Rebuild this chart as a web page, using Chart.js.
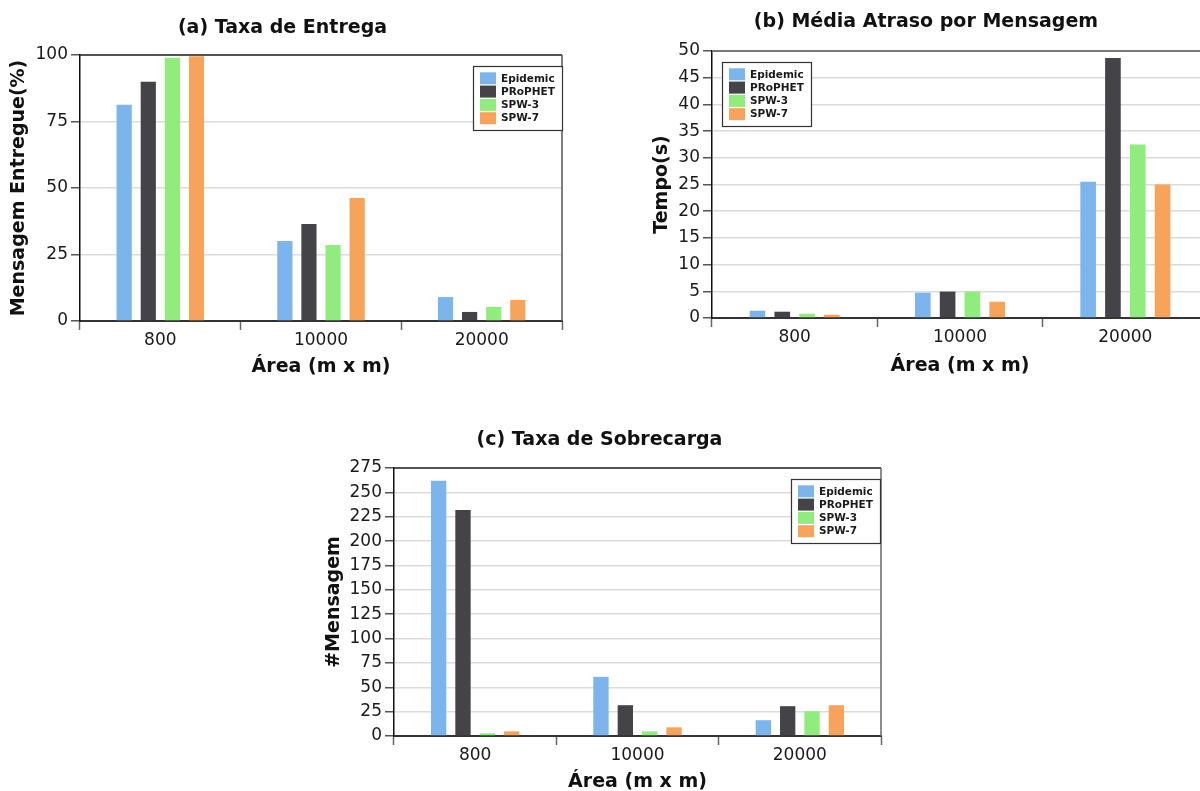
<!DOCTYPE html>
<html lang="pt">
<head>
<meta charset="utf-8">
<title>Desempenho dos protocolos</title>
<script src="https://cdn.jsdelivr.net/npm/chart.js@4/dist/chart.umd.min.js"></script>
<style>
  html, body { margin: 0; padding: 0; background: #fff; overflow: hidden; width: 1200px; height: 791px; }
  canvas { position: absolute; }
</style>
</head>
<body>
<canvas id="chartEntrega" width="565" height="395" style="left:0;top:0"></canvas>
<canvas id="chartAtraso" width="564" height="395" style="left:644px;top:0"></canvas>
<canvas id="chartSobrecarga" width="566" height="390" style="left:318px;top:415px"></canvas>
<script>
// Categorias (área do cenário, m x m)
const areas = ['800', '10000', '20000'];

// Protocolos e cores
const protocolos = ['Epidemic', 'PRoPHET', 'SPW-3', 'SPW-7'];
const cores = ['#7cb5ec', '#434348', '#90ed7d', '#f7a35c'];

// (a) Taxa de entrega (%)
const entregaEpidemic = [81.3, 30.1, 9.0];
const entregaProphet  = [89.9, 36.5, 3.4];
const entregaSpw3     = [99.0, 28.6, 5.3];
const entregaSpw7     = [99.5, 46.2, 7.9];

// (b) Média de atraso por mensagem (s)
const atrasoEpidemic = [1.37, 4.75, 25.5];
const atrasoProphet  = [1.18, 4.95, 48.7];
const atrasoSpw3     = [0.81, 4.95, 32.5];
const atrasoSpw7     = [0.62, 3.05, 25.0];

// (c) Taxa de sobrecarga (#mensagens)
const sobrecargaEpidemic = [262, 60.7, 16.2];
const sobrecargaProphet  = [232, 31.6, 30.6];
const sobrecargaSpw3     = [2.8, 4.8, 25.4];
const sobrecargaSpw7     = [4.8, 8.9, 31.6];

// Eixos Y
const ticksEntrega    = { max: 100, step: 25 };
const ticksAtraso     = { max: 50,  step: 5 };
const ticksSobrecarga = { max: 275, step: 25 };

const FONT = 'DejaVu Sans';

// Moldura superior/direita da área de plotagem
const plotFrame = {
  id: 'plotFrame',
  afterDatasetsDraw(chart, args, opts) {
    const { ctx, chartArea: a } = chart;
    ctx.save();
    ctx.lineWidth = opts.topWidth;
    ctx.strokeStyle = opts.topColor;
    ctx.beginPath();
    ctx.moveTo(a.left, a.top);
    ctx.lineTo(a.right, a.top);
    ctx.stroke();
    ctx.lineWidth = opts.rightWidth;
    ctx.strokeStyle = opts.rightColor;
    ctx.beginPath();
    ctx.moveTo(a.right, a.top);
    ctx.lineTo(a.right, a.bottom);
    ctx.stroke();
    ctx.restore();
  }
};

// Legenda desenhada dentro da área de plotagem
const insideLegend = {
  id: 'insideLegend',
  afterDraw(chart, args, opts) {
    const { ctx, chartArea: a } = chart;
    const sets = chart.data.datasets;
    ctx.save();
    ctx.font = 'bold 10.5px "' + FONT + '"';
    const textW = Math.max(...sets.map(d => ctx.measureText(d.label).width));
    const rowH = 13.3;
    const w = Math.round(28 + textW + 7);
    const h = Math.round(6.3 + sets.length * rowH + 4.5);
    const left = opts.anchor === 'right' ? Math.round(a.right - opts.dx - w) : Math.round(a.left + opts.dx);
    const top = Math.round(a.top + opts.dy);
    ctx.fillStyle = '#fff';
    ctx.fillRect(left, top, w, h);
    ctx.lineWidth = 1.2;
    ctx.strokeStyle = '#333';
    ctx.strokeRect(left + 0.5, top + 0.5, w, h);
    ctx.textBaseline = 'middle';
    ctx.textAlign = 'left';
    sets.forEach((d, i) => {
      const y = top + 6.3 + i * rowH;
      ctx.fillStyle = d.backgroundColor;
      ctx.fillRect(left + 7, y, 16, 12);
      ctx.fillStyle = '#1a1a1a';
      ctx.fillText(d.label, left + 28, y + 6.5);
    });
    ctx.restore();
  }
};

function montarGrafico(id, cfg) {
  const series = cfg.series.map((valores, i) => ({
    label: protocolos[i],
    data: valores,
    backgroundColor: cores[i],
    borderWidth: 0,
    categoryPercentage: 0.6,
    barPercentage: 0.63
  }));
  return new Chart(document.getElementById(id), {
    type: 'bar',
    data: { labels: areas, datasets: series },
    plugins: [plotFrame, insideLegend],
    options: {
      responsive: false,
      animation: false,
      devicePixelRatio: 1,
      layout: { padding: cfg.padding },
      plugins: {
        legend: { display: false },
        tooltip: { enabled: false },
        title: {
          display: true,
          text: cfg.title,
          color: '#111',
          font: { family: FONT, size: 19, weight: 'bold', lineHeight: 1.2 },
          padding: cfg.titlePad
        },
        plotFrame: cfg.frame,
        insideLegend: cfg.legend
      },
      scales: {
        x: {
          afterFit: s => { s.height = cfg.xHeight; },
          grid: {
            offset: true,
            drawOnChartArea: false,
            drawTicks: true,
            tickLength: 9,
            tickColor: '#666',
            tickWidth: 1.5
          },
          border: { display: true, color: '#333', width: 2 },
          ticks: { color: '#1a1a1a', padding: 0, font: { family: FONT, size: 17, lineHeight: 1.2 } },
          title: {
            display: true,
            text: 'Área (m x m)',
            color: '#111',
            font: { family: FONT, size: 19, weight: 'bold', lineHeight: 1.2 },
            padding: { top: 0, bottom: cfg.xTitlePad }
          }
        },
        y: {
          afterFit: s => { s.width = cfg.yWidth; },
          min: 0,
          max: cfg.ticks.max,
          grid: {
            color: '#dcdcdc',
            lineWidth: 1.5,
            drawTicks: true,
            tickLength: 9,
            tickColor: '#555',
            tickWidth: 1.5
          },
          border: { display: true, color: '#111', width: 1.5 },
          ticks: {
            stepSize: cfg.ticks.step,
            color: '#1a1a1a',
            padding: 3,
            font: { family: FONT, size: 17, lineHeight: 1.2 }
          },
          title: {
            display: true,
            text: cfg.yTitle,
            color: '#111',
            font: { family: FONT, size: 19, weight: 'bold', lineHeight: 1.2 },
            padding: { top: cfg.yTitlePad, bottom: 0 }
          }
        }
      }
    }
  });
}

montarGrafico('chartEntrega', {
  title: '(a) Taxa de Entrega',
  yTitle: 'Mensagem Entregue(%)',
  series: [entregaEpidemic, entregaProphet, entregaSpw3, entregaSpw7],
  ticks: ticksEntrega,
  padding: { left: 3, right: 3, top: 0, bottom: 0 },
  titlePad: { top: 17, bottom: 15.2 },
  yWidth: 77,
  yTitlePad: 4.6,
  xHeight: 74,
  xTitlePad: 16.9,
  frame: { topColor: '#222', topWidth: 1.5, rightColor: '#555', rightWidth: 1.5 },
  legend: { anchor: 'right', dx: 0, dy: 10.7 }
});

montarGrafico('chartAtraso', {
  title: '(b) Média Atraso por Mensagem',
  yTitle: 'Tempo(s)',
  series: [atrasoEpidemic, atrasoProphet, atrasoSpw3, atrasoSpw7],
  ticks: ticksAtraso,
  padding: { left: 0, right: 0, top: 0, bottom: 0 },
  titlePad: { top: 10.3, bottom: 17.9 },
  yWidth: 68,
  yTitlePad: 6.2,
  xHeight: 77,
  xTitlePad: 17.9,
  frame: { topColor: '#777', topWidth: 2, rightColor: '#777', rightWidth: 1.5 },
  legend: { anchor: 'left', dx: 10.3, dy: 10.7 }
});

montarGrafico('chartSobrecarga', {
  title: '(c) Taxa de Sobrecarga',
  yTitle: '#Mensagem',
  series: [sobrecargaEpidemic, sobrecargaProphet, sobrecargaSpw3, sobrecargaSpw7],
  ticks: ticksSobrecarga,
  padding: { left: 0, right: 3, top: 0, bottom: 0 },
  titlePad: { top: 13.6, bottom: 16.6 },
  yWidth: 76,
  yTitlePad: 4.6,
  xHeight: 69,
  xTitlePad: 11.9,
  frame: { topColor: '#222', topWidth: 1.5, rightColor: '#666', rightWidth: 1.5 },
  legend: { anchor: 'right', dx: 1, dy: 11 }
});
</script>
</body>
</html>
